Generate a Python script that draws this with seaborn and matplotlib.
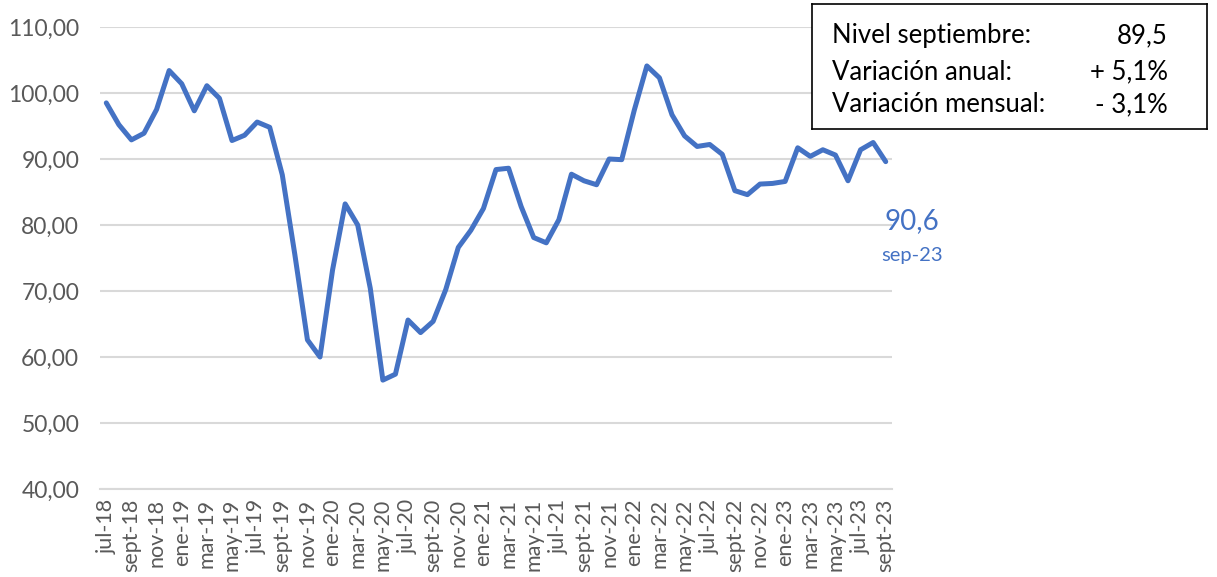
import numpy as np
import pandas as pd
import matplotlib.pyplot as plt
import seaborn as sns

# meses jul-18 .. sept-23
meses = ['jul-18', 'ago-18', 'sept-18', 'oct-18', 'nov-18', 'dic-18',
         'ene-19', 'feb-19', 'mar-19', 'abr-19', 'may-19', 'jun-19',
         'jul-19', 'ago-19', 'sept-19', 'oct-19', 'nov-19', 'dic-19',
         'ene-20', 'feb-20', 'mar-20', 'abr-20', 'may-20', 'jun-20',
         'jul-20', 'ago-20', 'sept-20', 'oct-20', 'nov-20', 'dic-20',
         'ene-21', 'feb-21', 'mar-21', 'abr-21', 'may-21', 'jun-21',
         'jul-21', 'ago-21', 'sept-21', 'oct-21', 'nov-21', 'dic-21',
         'ene-22', 'feb-22', 'mar-22', 'abr-22', 'may-22', 'jun-22',
         'jul-22', 'ago-22', 'sept-22', 'oct-22', 'nov-22', 'dic-22',
         'ene-23', 'feb-23', 'mar-23', 'abr-23', 'may-23', 'jun-23',
         'jul-23', 'ago-23', 'sept-23']

nivel = [98.5, 95.2, 92.9, 93.9, 97.5, 103.4,
         101.4, 97.3, 101.1, 99.2, 92.8, 93.6,
         95.6, 94.8, 87.6, 75.5, 62.6, 60.0,
         73.2, 83.2, 80.0, 70.4, 56.5, 57.4,
         65.6, 63.7, 65.4, 70.2, 76.6, 79.2,
         82.5, 88.4, 88.6, 82.8, 78.1, 77.3,
         80.8, 87.7, 86.7, 86.1, 90.0, 89.9,
         97.4, 104.1, 102.3, 96.7, 93.5, 91.9,
         92.2, 90.7, 85.2, 84.6, 86.2, 86.3,
         86.6, 91.7, 90.4, 91.4, 90.6, 86.7,
         91.4, 92.5, 89.6]

resumen_etiquetas = ['Nivel septiembre:', 'Variación anual:', 'Variación mensual:']
resumen_valores = ['89,5', '+ 5,1%', '- 3,1%']

df = pd.DataFrame({'mes': meses, 'nivel': nivel})
df['pos'] = np.arange(len(df))

azul = '#4472C4'
gris = '#595959'

sns.set_style('white')
plt.rcParams['font.family'] = ['Lato', 'DejaVu Sans']

fig = plt.figure(figsize=(12.17, 5.77), dpi=100)
ax = fig.add_axes([100 / 1217, 1 - 489 / 577, 792 / 1217, 462 / 577])

sns.lineplot(data=df, x='pos', y='nivel', color=azul, linewidth=3.6, ax=ax)

ax.set_xlim(-0.5, len(df) - 0.5)
ax.set_ylim(40, 110)
ax.set_yticks(range(40, 111, 10))
ax.set_yticklabels([f'{v},00' for v in range(40, 111, 10)], fontsize=16.5, color=gris)
ax.yaxis.grid(True, color='#D9D9D9', linewidth=1.5)
ax.set_axisbelow(True)

# etiquetas cada dos meses, marcas en cada limite
ax.set_xticks(df['pos'][::2])
ax.set_xticklabels(df['mes'][::2], rotation=90, fontsize=15.5, color=gris)
ax.set_xticks(np.arange(-0.5, len(df)), minor=True)
ax.tick_params(axis='x', which='major', length=0, pad=7)
ax.tick_params(axis='x', which='minor', length=6, color='#D9D9D9', width=1.3, direction='out')
ax.tick_params(axis='y', length=0, pad=15)
ax.set_xlabel('')
ax.set_ylabel('')
for s in ['top', 'right', 'left']:
    ax.spines[s].set_visible(False)
ax.spines['bottom'].set_color('#D9D9D9')
ax.spines['bottom'].set_linewidth(1.5)

# valor destacado
fig.text(912 / 1217, 1 - 221 / 577, '90,6', color=azul, fontsize=20, ha='center', va='center')
fig.text(912 / 1217, 1 - 255 / 577, 'sep-23', color=azul, fontsize=14.5, ha='center', va='center')

# recuadro resumen
box = fig.add_axes([812 / 1217, 1 - 129 / 577, 395 / 1217, 125 / 577])
box.set_xticks([])
box.set_yticks([])
for s in box.spines.values():
    s.set_color('black')
    s.set_linewidth(1.2)
ys = [36, 72, 105]
for lab, val, y in zip(resumen_etiquetas, resumen_valores, ys):
    yy = (129 - y) / 125
    box.text(20 / 395, yy, lab, fontsize=18.5, color='black', ha='left', va='center', transform=box.transAxes)
    box.text(356 / 395, yy, val, fontsize=18.5, color='black', ha='right', va='center', transform=box.transAxes)

fig.savefig('out.png', dpi=100)
